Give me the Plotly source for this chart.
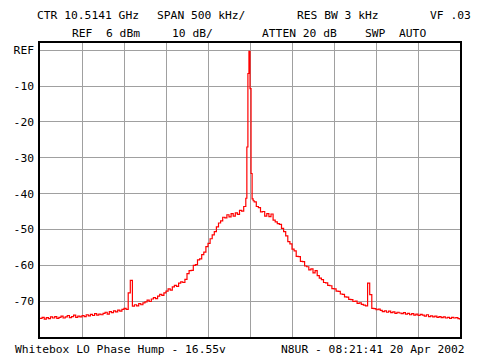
import numpy as np
import plotly.graph_objects as go

# Frequency offsets from centre (kHz)
freq_left = np.arange(-250, -6, 2.5)          # -250 .. -7.5
freq_center = [-5, -3.75, -2.5, -1.25, 0, 1.25, 2.5, 3.75]
freq_right = np.arange(5, 251, 2.5)           # 5 .. 250

# Levels (dB relative to REF)
level_left = [
    -74.8, -74.5, -75.0, -74.6, -74.9, -74.4, -74.7, -74.3, -74.8, -74.5,
    -74.2, -74.7, -74.4, -74.0, -74.6, -74.3, -73.9, -74.5, -74.2, -74.4,
    -74.0, -74.3, -73.8, -74.1, -73.7, -74.0, -73.5, -73.9, -73.6, -73.8,
    -73.4, -73.1, -73.6, -72.9, -73.2, -72.7, -73.0, -72.5, -72.8, -72.3,
    -72.0, -72.3, -67.7, -64.2, -71.4, -71.0, -71.3, -70.7, -71.0, -70.5,
    -70.2, -69.7, -70.1, -69.4, -69.0, -69.3, -68.6, -68.1, -68.4, -67.7,
    -67.2, -66.6, -66.9, -66.0, -65.6, -65.9, -65.0, -64.6, -64.8, -63.9,
    -62.3, -61.5, -61.4, -60.0, -59.8, -58.5, -58.2, -57.0, -56.3, -54.8,
    -53.9, -52.6, -51.5, -50.6, -49.3, -48.2, -47.6, -46.6, -46.8, -45.9,
    -46.5, -45.6, -46.3, -45.4, -45.8, -44.7, -44.9, -43.6,
]
level_center = [-41.3, -27.0, -6.5, -0.3, -10.7, -34.4, -41.5, -42.0]
level_right = [
    -42.3, -43.6, -43.9, -45.1, -45.0, -46.3, -45.6, -46.4, -45.7, -47.4,
    -47.9, -48.4, -48.6, -49.7, -50.6, -51.8, -53.4, -54.0, -55.5, -56.0,
    -57.5, -57.6, -58.9, -59.0, -60.2, -60.4, -61.3, -61.0, -62.1, -61.5,
    -62.9, -63.6, -64.0, -64.8, -64.9, -65.6, -65.7, -66.5, -66.6, -67.2,
    -67.3, -68.0, -68.1, -68.8, -68.9, -69.5, -69.6, -70.1, -70.0, -70.6,
    -70.5, -70.9, -71.1, -71.3, -65.0, -68.2, -72.0, -72.1, -72.4, -72.2,
    -72.6, -72.9, -72.7, -73.1, -72.8, -73.2, -73.0, -73.4, -73.1, -73.3,
    -73.5, -73.2, -73.6, -73.4, -73.8, -73.5, -73.9, -73.6, -74.0, -73.7,
    -73.9, -74.2, -73.8, -74.3, -74.1, -74.4, -74.2, -74.5, -74.3, -74.6,
    -74.4, -74.7, -74.5, -74.8, -74.5, -74.7, -74.6, -74.9, -75.2,
]

y_tickvals = [0, -10, -20, -30, -40, -50, -60, -70]
y_ticktext = ["REF", "-10", "-20", "-30", "-40", "-50", "-60", "-70"]

header_row1 = ["CTR 10.5141 GHz", "SPAN 500 kHz/", "RES BW 3 kHz", "VF .03"]
header_row2 = ["REF  6 dBm", "10 dB/", "ATTEN 20 dB", "SWP", "AUTO"]
footer_left = "Whitebox LO Phase Hump - 16.55v"
footer_right = "N8UR - 08:21:41 20 Apr 2002"

freq = list(freq_left) + list(freq_center) + list(freq_right)
level = level_left + level_center + level_right

W, H = 480, 360
L, R, T, B = 40, 20, 43, 23
FONT = "DejaVu Sans Mono"
FS = 11.3


def to_paper(px, py):
    return (px - L) / (W - L - R), (H - B - py) / (H - T - B)


fig = go.Figure()
fig.add_trace(go.Scatter(
    x=freq, y=level, mode="lines", line=dict(color="#ff0000", width=1.2, shape="hv"),
    hoverinfo="skip", showlegend=False,
))

annos = []
row1_x = [35, 155, 295, 428]
row2_x = [70, 170, 260, 363, 397]
for txt, px in zip(header_row1, row1_x):
    xp, yp = to_paper(px, 15.5)
    annos.append(dict(text=txt, x=xp, y=yp))
for txt, px in zip(header_row2, row2_x):
    xp, yp = to_paper(px, 33.5)
    annos.append(dict(text=txt, x=xp, y=yp))
for txt, px in [(footer_left, 13), (footer_right, 279)]:
    xp, yp = to_paper(px, 349)
    annos.append(dict(text=txt, x=xp, y=yp))

for a in annos:
    fig.add_annotation(
        text=a["text"].replace(" ", "&nbsp;"), x=a["x"], y=a["y"], xref="paper", yref="paper",
        xanchor="left", yanchor="middle", showarrow=False,
        font=dict(family=FONT, size=FS, color="black"),
    )

fig.update_layout(
    width=W, height=H,
    margin=dict(l=L, r=R, t=T, b=B, pad=0, autoexpand=False),
    paper_bgcolor="white", plot_bgcolor="white",
    font=dict(family=FONT, size=FS, color="black"),
)
fig.update_xaxes(
    range=[-250, 250], dtick=50, tick0=-250, showticklabels=False, ticks="",
    showgrid=True, gridcolor="#a0a0a0", gridwidth=1, zeroline=False, automargin=False,
    showline=True, linecolor="black", linewidth=1.5, mirror=True, fixedrange=True,
)
fig.update_yaxes(
    range=[-80, 2], tickvals=y_tickvals, ticktext=y_ticktext, ticks="",
    ticklabelstandoff=2, automargin=False,
    showgrid=True, gridcolor="#a0a0a0", gridwidth=1, zeroline=False,
    showline=True, linecolor="black", linewidth=1.5, mirror=True, fixedrange=True,
    tickfont=dict(family=FONT, size=FS, color="black"),
)

fig.write_html(
    "out.html",
    config={"displayModeBar": False},
    post_script="document.body.style.margin='0';document.body.style.padding='0';",
)
